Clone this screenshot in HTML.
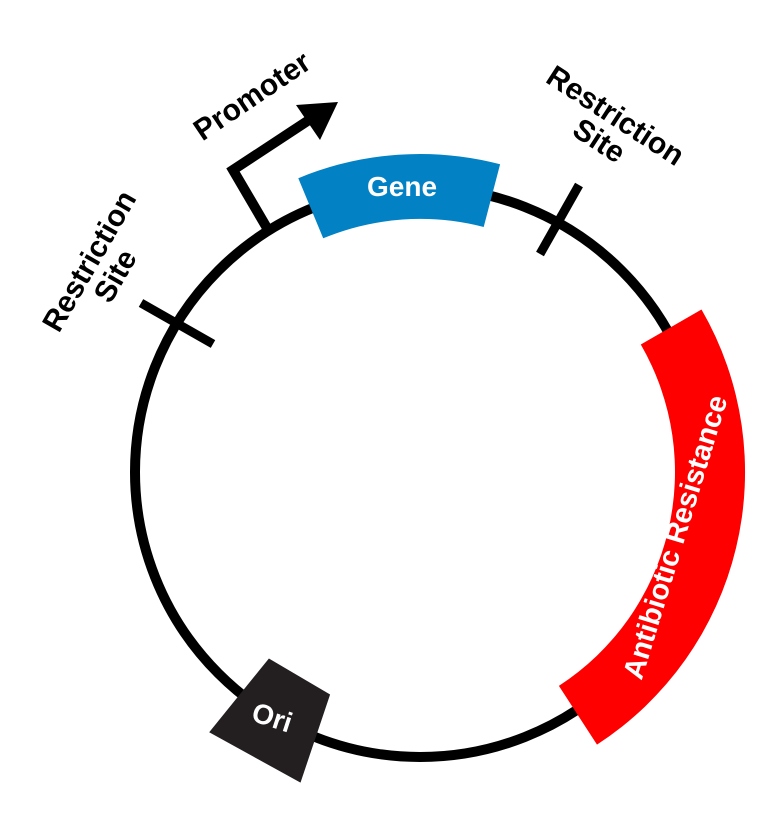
<!DOCTYPE html>
<html><head><meta charset="utf-8"><style>
html,body{margin:0;padding:0;background:#fff;}
svg{display:block;}
text{font-family:"Liberation Sans",sans-serif;font-weight:bold;}
</style></head><body>
<svg width="783" height="820" viewBox="0 0 783 820" xmlns="http://www.w3.org/2000/svg">
<circle cx="420" cy="472" r="285" fill="none" stroke="#000" stroke-width="10"/>
<path d="M 323.2 238.3 L 298.3 178.2 A 318 318 0 0 1 500.1 164.3 L 483.7 227.0 A 253 253 0 0 0 323.2 238.3 Z" fill="#0281c4"/>
<text x="402" y="196" font-size="28" fill="#fff" text-anchor="middle">Gene</text>
<path d="M 640.8 344.5 L 701.5 309.5 A 325 325 0 0 1 597.0 744.6 L 558.9 685.9 A 255 255 0 0 0 640.8 344.5 Z" fill="#fe0000"/>
<text transform="translate(675,537) rotate(-73)" font-size="29" fill="#fff" text-anchor="middle" dy="10">Antibiotic Resistance</text>
<path d="M 268.9 658.5 L 330.1 694.5 L 300.5 782.6 L 209.2 732.3 Z" fill="#231f20"/>
<text transform="translate(272,718) rotate(18)" font-size="28" fill="#fff" text-anchor="middle" dy="9">Ori</text>
<line x1="141" y1="303" x2="213" y2="344" stroke="#000" stroke-width="9"/>
<line x1="579" y1="185" x2="540" y2="254" stroke="#000" stroke-width="9"/>
<polyline points="267,228 233,170 312,118" fill="none" stroke="#000" stroke-width="10" stroke-linejoin="miter"/>
<polygon points="338,102 296,105 320,140" fill="#000"/>
<text transform="translate(252,96) rotate(-34)" font-size="30" fill="#000" text-anchor="middle" dy="10">Promoter</text>
<text transform="translate(610,124) rotate(33)" font-size="30" fill="#000" text-anchor="middle"><tspan x="0" y="0">Restriction</tspan><tspan x="0" y="30">Site</tspan></text>
<text transform="translate(98,266) rotate(-60)" font-size="30" fill="#000" text-anchor="middle"><tspan x="0" y="0">Restriction</tspan><tspan x="0" y="30">Site</tspan></text>
</svg>
</body></html>
